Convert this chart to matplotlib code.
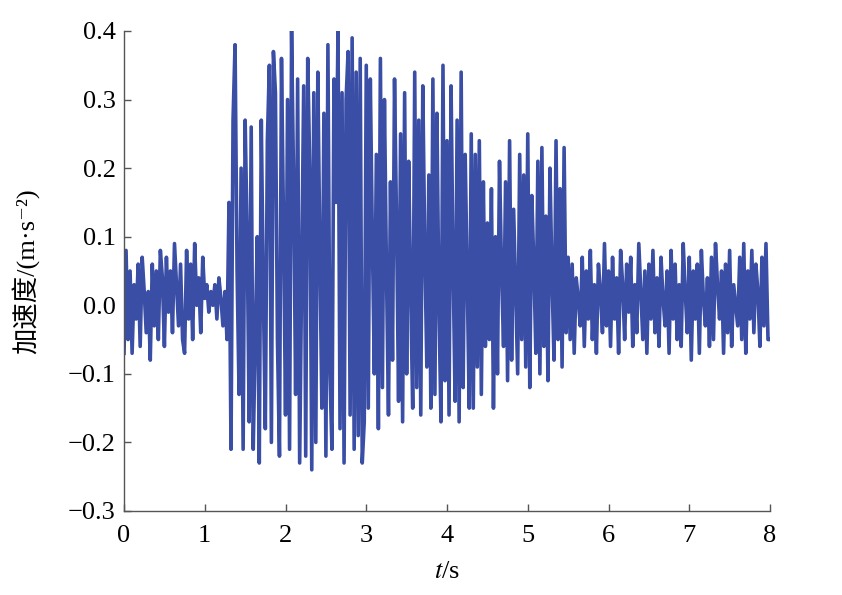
import numpy as np
import matplotlib
matplotlib.use("Agg")
import matplotlib.pyplot as plt
from matplotlib.ticker import FuncFormatter, MultipleLocator

plt.rcParams['font.family'] = ['Liberation Serif', 'Noto Sans CJK SC', 'DejaVu Serif']
plt.rcParams['mathtext.fontset'] = 'stix'

# acceleration (m/s^2), segment by segment
seg_quiet_start = [-0.07, 0.08, -0.05, 0.05, -0.07, 0.03, -0.02, 0.06, -0.06, 0.07,
                   0.02, -0.04, 0.02, -0.08, 0.06, -0.03, 0.05, -0.05, 0.08, 0.04,
                   -0.06, 0.07, -0.01, 0.05, -0.04, 0.09, 0.03, -0.03, 0.06, -0.05,
                   -0.07, 0.08, -0.02, 0.06, -0.05, 0.09, 0.00, 0.04, -0.04, 0.07]
seg_calm = [0.01, 0.03, -0.01, 0.02, 0.00, 0.03, -0.02, 0.04, 0.01, -0.03, 0.02, -0.05]
seg_strong = [0.15, -0.21, 0.27, 0.38, 0.05, -0.13, 0.20, -0.21, 0.27, 0.10,
              -0.17, 0.26, -0.21, -0.05, 0.10, -0.23, 0.27, 0.02, -0.18, 0.24,
              0.35, -0.20, 0.37, 0.31, -0.05, -0.22, 0.36, 0.12, -0.16, 0.30,
              -0.21, 0.40, 0.18, -0.13, 0.33, -0.23, 0.05, 0.32, -0.22, 0.36,
              0.20, -0.24, 0.31, -0.20, 0.34, 0.08, -0.15, 0.28, -0.22, 0.38,
              -0.10, -0.21, 0.33, 0.15, 0.40, -0.18, 0.31, -0.23, 0.30, 0.37,
              -0.16, 0.39, -0.21, 0.34, -0.19, 0.36, -0.23, -0.17]
seg_decay = [0.35, -0.15, 0.33, 0.10, -0.10, 0.22, -0.18, 0.36, -0.12, 0.30,
             0.05, -0.16, 0.18, -0.08, 0.33, 0.12, -0.14, 0.25, -0.17, 0.31,
             -0.10, 0.21, 0.02, -0.15, 0.34, -0.12, 0.27, -0.16, 0.32, 0.08,
             -0.09, 0.19, -0.15, 0.33, -0.13, 0.28, 0.00, -0.17, 0.35, -0.11,
             0.24, -0.16, 0.32, 0.06, -0.14, 0.27, -0.17, 0.34, -0.12, 0.22,
             0.04, -0.15, 0.25, -0.15, 0.22, -0.09, 0.24, -0.13, 0.18, -0.06]
seg_tail = [0.12, -0.05, 0.17, -0.15, 0.10, -0.10, 0.21, 0.05, -0.06, 0.18,
            -0.11, 0.24, -0.08, 0.14, 0.02, -0.10, 0.22, -0.05, 0.19, -0.09,
            0.25, -0.12, 0.16, 0.06, -0.07, 0.21, -0.10, 0.23, -0.06, 0.13,
            -0.11, 0.20, 0.04, -0.08, 0.24, -0.05, 0.17, -0.09, 0.23, -0.04]
seg_quiet_end = [0.07, -0.05, 0.06, -0.07, 0.04, 0.01, -0.03, 0.07, -0.06, 0.05,
                 -0.02, 0.08, -0.05, 0.03, -0.07, 0.06, 0.02, -0.04, 0.09, -0.03,
                 0.05, -0.06, 0.07, -0.02, 0.04, -0.07, 0.08, 0.03, -0.05, 0.06,
                 -0.01, 0.07, -0.06, 0.03, -0.04, 0.09, 0.02, -0.05, 0.05, -0.07,
                 0.06, -0.02, 0.08, -0.04, 0.04, -0.06, 0.07, 0.01, -0.03, 0.05,
                 -0.07, 0.08, -0.02, 0.06, -0.05, 0.03, -0.06, 0.09, 0.02, -0.04,
                 0.07, -0.08, 0.05, -0.02, 0.06, -0.07, 0.08, 0.01, -0.03, 0.04,
                 -0.06, 0.07, -0.05, 0.09, 0.03, -0.02, 0.05, -0.07, 0.06, -0.04,
                 0.08, -0.06, 0.03, 0.00, -0.03, 0.07, -0.05, 0.09, -0.07, 0.05,
                 -0.02, 0.08, -0.04, 0.06, 0.02, -0.06, 0.07, -0.03, 0.09, -0.05,
                 -0.05]
duration_s = 8.0

acc = np.array(seg_quiet_start + seg_calm + seg_strong + seg_decay + seg_tail + seg_quiet_end)
t = np.linspace(0, duration_s, len(acc))

fig = plt.figure(figsize=(8.42, 5.95), dpi=100)
ax = fig.add_axes([0.1473, 0.1412, 0.7672, 0.8067])
ax.plot(t, acc, color='#3a4ea6', lw=2.6)

ax.set_xlim(0, 8)
ax.set_ylim(-0.3, 0.4)
ax.xaxis.set_major_locator(MultipleLocator(1))
ax.yaxis.set_major_locator(MultipleLocator(0.1))

def yfmt(v, pos):
    s = f"{v:.1f}"
    if s == "-0.0":
        s = "0.0"
    return s.replace('-', '\u2212')

ax.yaxis.set_major_formatter(FuncFormatter(yfmt))
for side in ('top', 'right'):
    ax.spines[side].set_visible(False)
for side in ('left', 'bottom'):
    ax.spines[side].set_color('#555555')
    ax.spines[side].set_linewidth(1.0)
ax.tick_params(direction='in', length=5, width=1, color='#555555', labelsize=19)
ax.tick_params(axis='x', pad=10)
ax.tick_params(axis='y', pad=6)
ax.set_xlabel('$t$/s', fontsize=19, labelpad=10)
ax.set_ylabel('加速度/(m·s\u207b\u00b2)', fontsize=19, labelpad=20)

fig.savefig('out.png', dpi=100)
